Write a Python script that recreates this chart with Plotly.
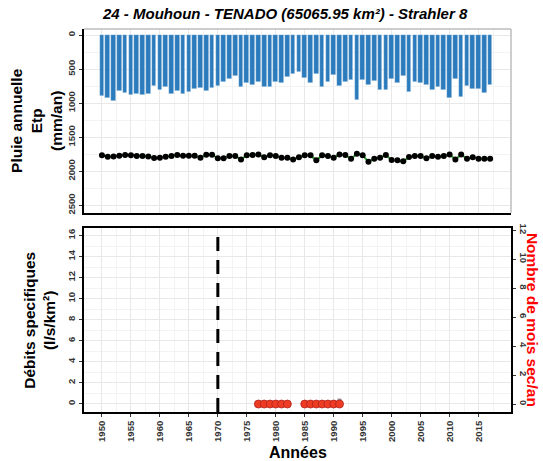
import plotly.graph_objects as go
from plotly.subplots import make_subplots

# ---- data ----
years = list(range(1950, 2018))

rain = [900, 925, 963, 827, 852, 876, 866, 886, 866, 740,
        808, 769, 866, 827, 866, 842, 788, 779, 827, 779,
        754, 691, 647, 598, 759, 696, 730, 681, 759, 759,
        681, 705, 618, 565, 535,
        633, 710, 565, 769, 681,
        584, 754, 691, 657, 949, 662, 735, 671, 803, 803,
        638, 705, 598, 842, 691, 700, 730, 808, 759, 803,
        925, 647, 915, 754, 793, 788, 852, 735]

etp = [1766, 1786, 1781, 1771, 1762, 1766, 1776, 1776, 1781, 1805,
       1800, 1786, 1776, 1762, 1771, 1771, 1771, 1800, 1757, 1757,
       1810, 1810, 1776, 1776, 1825, 1766, 1762, 1752, 1795, 1766,
       1776, 1800, 1800, 1825, 1795, 1766,
       1766, 1839, 1766, 1776, 1800, 1752, 1762, 1815, 1742, 1766,
       1859, 1815, 1800, 1762, 1834, 1839, 1854, 1791, 1776, 1776,
       1810, 1776, 1786, 1776, 1752, 1825, 1752, 1815, 1795, 1815,
       1815, 1815]

dry_years = [1977, 1978, 1979, 1980, 1981, 1982,
             1985, 1986, 1987, 1988, 1989, 1990, 1991]
dry_months = [0] * len(dry_years)

debit_years = [1991]
debit_vals = [0.3]

break_year = 1970

year_ticks = list(range(1950, 2020, 5))
year_minor = [y + 2.5 for y in year_ticks]

title = "24 - Mouhoun - TENADO (65065.95 km²) - Strahler 8"

# ---- figure ----
fig = make_subplots(rows=2, cols=1, specs=[[{}], [{"secondary_y": True}]])

fig.add_trace(go.Bar(x=years, y=rain, base=0, width=0.8,
                     marker=dict(color="#2c7bbd",
                                 line=dict(color="rgba(255,255,255,0.55)", width=0.6))),
              row=1, col=1)
fig.add_trace(go.Scatter(x=years, y=etp, mode="lines+markers",
                         line=dict(color="#2ca02c", width=2),
                         marker=dict(color="black", size=6)),
              row=1, col=1)

fig.add_trace(go.Scatter(x=debit_years, y=debit_vals, mode="markers",
                         marker=dict(color="#888888", symbol="square", size=4)),
              row=2, col=1, secondary_y=False)
fig.add_trace(go.Scatter(x=dry_years, y=dry_months, mode="markers",
                         marker=dict(color="#ee3b24", size=8,
                                     line=dict(color="#b2221a", width=0.8))),
              row=2, col=1, secondary_y=True)

fig.add_vline(x=break_year, row=2, col=1,
              line=dict(color="black", width=3, dash="14px,9px"))

tickfont = dict(family="Liberation Sans", size=9.5, color="#333333", weight="bold")
xrange = [1946.9, 2020.6]
xminor = dict(tickmode="array", tickvals=year_minor, showgrid=True,
              gridcolor="#f3f3f3", gridwidth=0.8)

fig.update_layout(
    width=543, height=461,
    margin=dict(l=84, r=32, t=29, b=49),
    plot_bgcolor="white", paper_bgcolor="white",
    showlegend=False, bargap=0,
    xaxis=dict(domain=[0, 1], range=xrange, tickmode="array", tickvals=year_ticks,
               showticklabels=False, showline=True, linecolor="black", linewidth=1.5,
               ticks="", zeroline=False, automargin=False, minor=xminor),
    yaxis=dict(domain=[0.52, 1.0], range=[2610, -90], tick0=0, dtick=500,
               tickangle=-90, tickfont=tickfont, ticks="outside", ticklen=3,
               tickcolor="#333333", showline=True, linecolor="black", linewidth=1.5,
               zeroline=False, automargin=False,
               minor=dict(dtick=250, showgrid=True, gridcolor="#f3f3f3", gridwidth=0.8)),
    xaxis2=dict(domain=[0, 1], range=xrange, tickmode="array", tickvals=year_ticks,
                tickangle=-90, tickfont=tickfont, ticks="outside", ticklen=3,
                tickcolor="#333333", showline=True, linecolor="black", linewidth=2,
                mirror=True, zeroline=False, automargin=False, minor=xminor),
    yaxis2=dict(domain=[0, 0.48], range=[-0.78, 16.7], tick0=0, dtick=2,
                tickangle=-90, tickfont=tickfont, ticks="outside", ticklen=3,
                tickcolor="#333333", showline=True, linecolor="black", linewidth=2,
                zeroline=False, automargin=False,
                minor=dict(dtick=1, showgrid=True, gridcolor="#f3f3f3", gridwidth=0.8)),
    yaxis3=dict(range=[-0.55, 12.15], tick0=0, dtick=2, tickangle=90,
                tickfont=tickfont, ticks="outside", ticklen=3, tickcolor="#333333",
                showline=True, linecolor="black", linewidth=2, showgrid=False,
                zeroline=False, automargin=False),
)
fig.update_xaxes(gridcolor="#e8e8e8", showgrid=True, gridwidth=1)
fig.update_yaxes(gridcolor="#e8e8e8", gridwidth=1)
fig.update_yaxes(showgrid=False, selector=dict(overlaying="y2"))

# grey frame on top/right of the upper panel
fig.add_shape(type="line", xref="x domain", yref="y domain", x0=0, x1=1, y0=1, y1=1,
              line=dict(color="#bdbdbd", width=1.5))
fig.add_shape(type="line", xref="x domain", yref="y domain", x0=1, x1=1, y0=0, y1=1,
              line=dict(color="#bdbdbd", width=1.5))

bold = dict(family="Liberation Sans", color="black", weight="bold")
ann = dict(xref="paper", yref="paper", showarrow=False,
           xanchor="center", yanchor="middle")
fig.add_annotation(ann, text=title, x=0.47, y=1.0, yshift=16,
                   font=dict(bold, size=15, style="italic"))
fig.add_annotation(ann, text="Pluie annuelle<br>Etp<br>(mm/an)",
                   x=-0.11, y=0.76, textangle=-90, font=dict(bold, size=15.5))
fig.add_annotation(ann, text="Débits specifiques<br>(l/s/km²)",
                   x=-0.106, y=0.24, textangle=-90, font=dict(bold, size=15.5))
fig.add_annotation(ann, text="Nombre de mois sec/an",
                   x=1.052, y=0.24, textangle=90,
                   font=dict(bold, size=15.5, color="#ff0000"))
fig.add_annotation(ann, text="Années", x=0.5, y=0, yshift=-40,
                   font=dict(bold, size=16))

fig.write_html("out.html", config={"displayModeBar": False},
               post_script="document.body.style.margin='0';")
